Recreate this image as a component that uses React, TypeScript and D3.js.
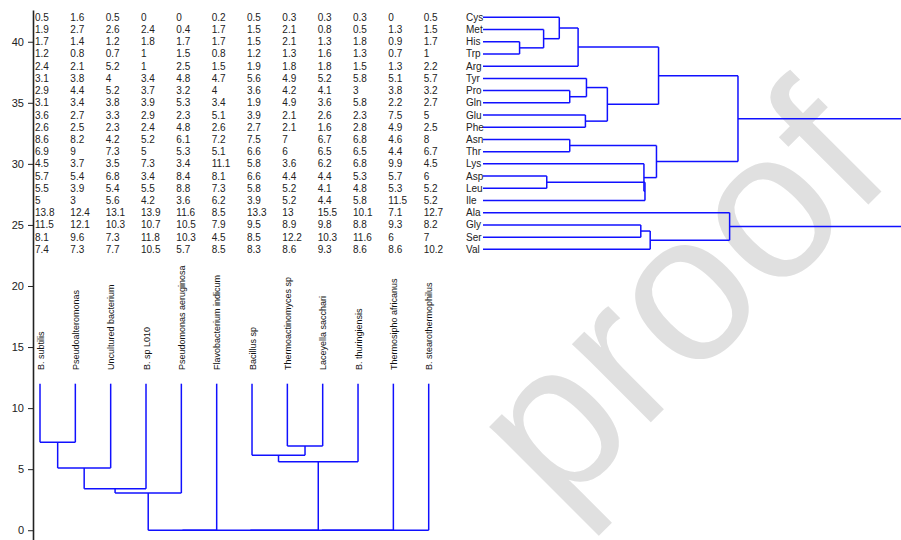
import React, { useEffect, useRef } from "react";
import * as d3 from "d3";

const species = [
  "B. subtilis",
  "Pseudoalteromonas",
  "Uncultured bacterium",
  "B. sp L010",
  "Pseudomonas aeruginosa",
  "Flavobacterium indicum",
  "Bacillus sp",
  "Thermoactinomyces sp",
  "Laceyella sacchari",
  "B. thuringiensis",
  "Thermosipho africanus",
  "B. stearothermophilus",
];

const aminoAcids = [
  "Cys", "Met", "His", "Trp", "Arg", "Tyr", "Pro", "Gln", "Glu", "Phe",
  "Asn", "Thr", "Lys", "Asp", "Leu", "Ile", "Ala", "Gly", "Ser", "Val",
];

// one row per amino acid, one value per species (same order as above)
const composition = [
  [0.5, 1.6, 0.5, 0, 0, 0.2, 0.5, 0.3, 0.3, 0.3, 0, 0.5],
  [1.9, 2.7, 2.6, 2.4, 0.4, 1.7, 1.5, 2.1, 0.8, 0.5, 1.3, 1.5],
  [1.7, 1.4, 1.2, 1.8, 1.7, 1.7, 1.5, 2.1, 1.3, 1.8, 0.9, 1.7],
  [1.2, 0.8, 0.7, 1, 1.5, 0.8, 1.2, 1.3, 1.6, 1.3, 0.7, 1],
  [2.4, 2.1, 5.2, 1, 2.5, 1.5, 1.9, 1.8, 1.8, 1.5, 1.3, 2.2],
  [3.1, 3.8, 4, 3.4, 4.8, 4.7, 5.6, 4.9, 5.2, 5.8, 5.1, 5.7],
  [2.9, 4.4, 5.2, 3.7, 3.2, 4, 3.6, 4.2, 4.1, 3, 3.8, 3.2],
  [3.1, 3.4, 3.8, 3.9, 5.3, 3.4, 1.9, 4.9, 3.6, 5.8, 2.2, 2.7],
  [3.6, 2.7, 3.3, 2.9, 2.3, 5.1, 3.9, 2.1, 2.6, 2.3, 7.5, 5],
  [2.6, 2.5, 2.3, 2.4, 4.8, 2.6, 2.7, 2.1, 1.6, 2.8, 4.9, 2.5],
  [8.6, 8.2, 4.2, 5.2, 6.1, 7.2, 7.5, 7, 6.7, 6.8, 4.6, 8],
  [6.9, 9, 7.3, 5, 5.3, 5.1, 6.6, 6, 6.5, 6.5, 4.4, 6.7],
  [4.5, 3.7, 3.5, 7.3, 3.4, 11.1, 5.8, 3.6, 6.2, 6.8, 9.9, 4.5],
  [5.7, 5.4, 6.8, 3.4, 8.4, 8.1, 6.6, 4.4, 4.4, 5.3, 5.7, 6],
  [5.5, 3.9, 5.4, 5.5, 8.8, 7.3, 5.8, 5.2, 4.1, 4.8, 5.3, 5.2],
  [5, 3, 5.6, 4.2, 3.6, 6.2, 3.9, 5.2, 4.4, 5.8, 11.5, 5.2],
  [13.8, 12.4, 13.1, 13.9, 11.6, 8.5, 13.3, 13, 15.5, 10.1, 7.1, 12.7],
  [11.5, 12.1, 10.3, 10.7, 10.5, 7.9, 9.5, 8.9, 9.8, 8.8, 9.3, 8.2],
  [8.1, 9.6, 7.3, 11.8, 10.3, 4.5, 8.5, 12.2, 10.3, 11.6, 6, 7],
  [7.4, 7.3, 7.7, 10.5, 5.7, 8.5, 8.3, 8.6, 9.3, 8.6, 8.6, 10.2],
];

const yTicks = [0, 5, 10, 15, 20, 25, 30, 35, 40];

// hclust style merges: negative = leaf (1-based), positive = earlier merge, then height
const speciesMerges = [
  [-1, -2, 7.2],
  [1, -3, 5.1],
  [2, -4, 3.4],
  [3, -5, 3.05],
  [-8, -9, 6.9],
  [-7, 5, 6.15],
  [6, -10, 5.6],
  [4, -6, 0],
  [8, 7, 0],
  [9, -11, 0],
  [10, -12, 0],
];
const speciesLeafHeight = 12;

const aminoMerges = [
  [-3, -4, 3.5],
  [-2, 1, 5.8],
  [-1, 2, 7.3],
  [3, -5, 9.1],
  [-7, -8, 8.3],
  [-6, 5, 9.9],
  [-9, -10, 9.8],
  [6, 7, 11.9],
  [4, 8, 16.8],
  [-11, -12, 8.3],
  [-14, -15, 6.1],
  [11, -16, 15.5],
  [-13, 12, 15.4],
  [10, 13, 16.6],
  [9, 14, 24.4],
  [-18, -19, 15.1],
  [16, -20, 16.0],
  [-17, 17, 23.6],
  [15, 18, 45],
];

const W = 901;
const H = 540;
const FONT = "'Liberation Sans', Arial, sans-serif";
const BLUE = "#1010ff";

function treeSegments(merges, leafPos, leafHeight) {
  const pos = [];
  const hts = [];
  const segs = [];
  const get = k => (k < 0 ? [leafPos[-k - 1], leafHeight] : [pos[k - 1], hts[k - 1]]);
  merges.forEach(([a, b, h]) => {
    const [pa, ha] = get(a);
    const [pb, hb] = get(b);
    segs.push([pa, ha, pa, h], [pb, hb, pb, h], [pa, h, pb, h]);
    pos.push((pa + pb) / 2);
    hts.push(h);
  });
  return segs;
}

export default function App() {
  const ref = useRef(null);

  useEffect(() => {
    const svg = d3.select(ref.current);
    svg.selectAll("*").remove();

    const yScale = d3.scaleLinear().domain([-0.8, 42.6]).range([540, 10]);
    const xScale = d3.scaleLinear().domain([0, species.length - 1]).range([40, 428.7]);
    const distScale = d3.scaleLinear().domain([0, 40]).range([483, 901]);
    const rowY = i => yScale(42 - i);

    // watermark
    svg.append("text")
      .attr("transform", "translate(558,515) rotate(-45)")
      .attr("font-family", FONT)
      .attr("font-size", 210)
      .attr("fill", "#e0e0e0")
      .text("proof");

    // y axis
    const axis = svg.append("g")
      .attr("transform", "translate(33,0)")
      .call(d3.axisLeft(yScale).tickValues(yTicks).tickSize(5).tickSizeOuter(0).tickPadding(4));
    axis.attr("font-size", 11).attr("font-family", FONT);
    axis.select(".domain").attr("stroke", "#222").attr("stroke-width", 1.6);
    axis.selectAll(".tick line").attr("stroke", "#222");
    axis.selectAll(".tick text").attr("fill", "#222");

    // table of values
    const table = svg.append("g")
      .attr("font-family", FONT)
      .attr("font-size", 10)
      .attr("fill", "#222");
    composition.forEach((row, i) => {
      table.selectAll(null)
        .data(row)
        .enter()
        .append("text")
        .attr("x", (d, j) => xScale(j) - 5)
        .attr("y", rowY(i))
        .attr("dy", "0.35em")
        .text(d => d);
    });

    // amino acid labels
    svg.append("g")
      .attr("font-family", FONT)
      .attr("font-size", 10)
      .attr("fill", "#222")
      .selectAll("text")
      .data(aminoAcids)
      .enter()
      .append("text")
      .attr("x", 466)
      .attr("y", (d, i) => rowY(i))
      .attr("dy", "0.35em")
      .text(d => d);

    // species labels
    svg.append("g")
      .attr("font-family", FONT)
      .attr("font-size", 9)
      .attr("fill", "#111")
      .selectAll("text")
      .data(species)
      .enter()
      .append("text")
      .attr("transform", (d, i) => `translate(${xScale(i) + 3.5},370) rotate(-90)`)
      .text(d => d);

    // species dendrogram (bottom)
    const sSegs = treeSegments(speciesMerges, species.map((d, i) => i), speciesLeafHeight);
    svg.append("g")
      .attr("stroke", BLUE)
      .attr("stroke-width", 1.5)
      .selectAll("line")
      .data(sSegs)
      .enter()
      .append("line")
      .attr("x1", d => xScale(d[0]))
      .attr("y1", d => yScale(d[1]))
      .attr("x2", d => xScale(d[2]))
      .attr("y2", d => yScale(d[3]));

    // amino acid dendrogram (right)
    const aSegs = treeSegments(aminoMerges, aminoAcids.map((d, i) => i), 0);
    svg.append("g")
      .attr("stroke", BLUE)
      .attr("stroke-width", 1.5)
      .selectAll("line")
      .data(aSegs)
      .enter()
      .append("line")
      .attr("x1", d => distScale(d[1]))
      .attr("y1", d => rowY(d[0]))
      .attr("x2", d => distScale(d[3]))
      .attr("y2", d => rowY(d[2]));
  }, []);

  return (
    <svg
      ref={ref}
      width={W}
      height={H}
      style={{ position: "absolute", left: 0, top: 0, display: "block", background: "#fff" }}
    />
  );
}
